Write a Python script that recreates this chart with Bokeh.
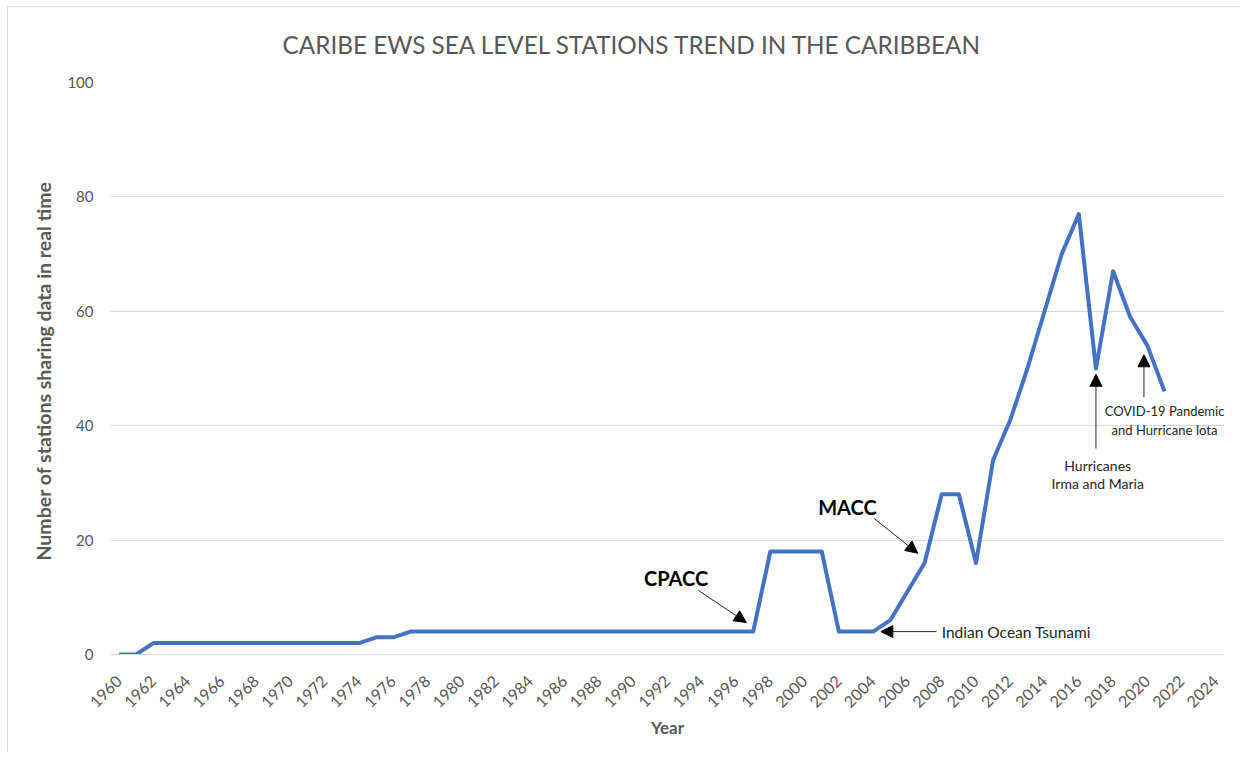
import math
from bokeh.plotting import figure
from bokeh.models import (ColumnDataSource, Range1d, FixedTicker, Arrow, NormalHead, Label, Title)
from bokeh.embed import file_html
from bokeh.resources import INLINE

# ---- data ----
years = [1960, 1961, 1962, 1963, 1964, 1965, 1966, 1967, 1968, 1969,
         1970, 1971, 1972, 1973, 1974, 1975, 1976, 1977, 1978, 1979,
         1980, 1981, 1982, 1983, 1984, 1985, 1986, 1987, 1988, 1989,
         1990, 1991, 1992, 1993, 1994, 1995, 1996, 1997, 1998, 1999,
         2000, 2001, 2002, 2003, 2004, 2005, 2006, 2007, 2008, 2009,
         2010, 2011, 2012, 2013, 2014, 2015, 2016, 2017, 2018, 2019,
         2020, 2021]
stations = [0, 0, 2, 2, 2, 2, 2, 2, 2, 2,
            2, 2, 2, 2, 2, 3, 3, 4, 4, 4,
            4, 4, 4, 4, 4, 4, 4, 4, 4, 4,
            4, 4, 4, 4, 4, 4, 4, 4, 18, 18,
            18, 18, 4, 4, 4, 6, 11, 16, 28, 28,
            16, 34, 41, 50, 60, 70, 77, 50, 67, 59,
            54, 46]

x_ticks = [1960, 1962, 1964, 1966, 1968, 1970, 1972, 1974, 1976, 1978,
           1980, 1982, 1984, 1986, 1988, 1990, 1992, 1994, 1996, 1998,
           2000, 2002, 2004, 2006, 2008, 2010, 2012, 2014, 2016, 2018,
           2020, 2022, 2024]
y_ticks = [0, 20, 40, 60, 80, 100]

title_text = "CARIBE EWS SEA LEVEL STATIONS TREND IN THE CARIBBEAN"
x_label = "Year"
y_label = "Number of stations sharing data in  real time"

# annotations: text, x, y, size, bold, align
ann_texts = ["CPACC", "MACC", "Indian Ocean Tsunami",
             "Hurricanes", "Irma and Maria",
             "COVID-19 Pandemic", "and Hurricane Iota"]
ann_x = [1992.5, 2002.5, 2008.0, 2017.1, 2017.1, 2021.0, 2021.0]
ann_y = [13.3, 25.7, 4.0, 33.0, 29.9, 42.5, 39.2]
ann_size = ["20px", "20px", "15.5px", "14px", "14px", "13px", "13px"]
ann_bold = [True, True, False, False, False, False, False]
ann_align = ["center", "center", "left", "center", "center", "center", "center"]

# arrows: start -> end (data coordinates)
arr_x0 = [1993.8, 2004.05, 2007.7, 2017.0, 2019.8]
arr_y0 = [11.2, 23.8, 4.0, 36.0, 45.0]
arr_x1 = [1996.6, 2006.6, 2004.45, 2017.0, 2019.8]
arr_y1 = [5.6, 17.7, 4.0, 49.0, 52.4]

FONT = "Lato"
GRAY = "#595959"

p = figure(width=1233, height=746, output_backend="svg", toolbar_location=None,
           x_range=Range1d(1959.5, 2024.5), y_range=Range1d(0, 100),
           min_border_left=102, min_border_right=17, min_border_top=75,
           min_border_bottom=99)
p.styles = {"margin-left": "7px", "margin-top": "6px",
            "border-left": "1px solid #d9d9d9", "border-top": "1px solid #d9d9d9"}
p.outline_line_color = None
p.background_fill_color = "white"
p.border_fill_color = "white"

p.add_layout(Title(text=title_text, align="left", offset=172, vertical_align="top",
                   text_font=FONT, text_font_size="24.3px", text_font_style="normal",
                   text_color=GRAY, standoff=44), "above")

src = ColumnDataSource(dict(x=years, y=stations))
p.line("x", "y", source=src, line_color="#4472C4", line_width=4, line_join="round")

# axes
p.xaxis.ticker = FixedTicker(ticks=x_ticks)
p.yaxis.ticker = FixedTicker(ticks=y_ticks)
p.xaxis.major_label_orientation = math.pi / 4
p.xaxis.axis_line_color = "#d9d9d9"
p.yaxis.axis_line_color = None
for ax in (p.xaxis, p.yaxis):
    ax.major_tick_line_color = None
    ax.minor_tick_line_color = None
    ax.major_label_text_font = FONT
    ax.major_label_text_color = GRAY
    ax.axis_label_text_font = FONT
    ax.axis_label_text_font_style = "bold"
    ax.axis_label_text_color = GRAY
p.xaxis.axis_label_text_font_size = "17px"
p.yaxis.axis_label_text_font_size = "19.5px"
p.xaxis.major_label_text_font_size = "16px"
p.yaxis.major_label_text_font_size = "15px"
p.xaxis.major_label_standoff = 18
p.yaxis.major_label_standoff = 11
p.xaxis.axis_label = x_label
p.yaxis.axis_label = y_label
p.xaxis.axis_label_standoff = 1
p.yaxis.axis_label_standoff = 9

p.xgrid.grid_line_color = None
p.ygrid.grid_line_color = "#d9d9d9"
p.ygrid.grid_line_width = 1

for txt, x, y, sz, b, al in zip(ann_texts, ann_x, ann_y, ann_size, ann_bold, ann_align):
    p.add_layout(Label(x=x, y=y, text=txt, text_font=FONT,
                       text_font_size=sz,
                       text_font_style="bold" if b else "normal",
                       text_color="black" if b else "#262626",
                       text_align=al, text_baseline="middle"))

for x0, y0, x1, y1 in zip(arr_x0, arr_y0, arr_x1, arr_y1):
    p.add_layout(Arrow(x_start=x0, y_start=y0, x_end=x1, y_end=y1,
                       line_color="#262626", line_width=1,
                       end=NormalHead(size=12, fill_color="black", line_color="black")))

open("out.html", "w").write(file_html(p, INLINE))
